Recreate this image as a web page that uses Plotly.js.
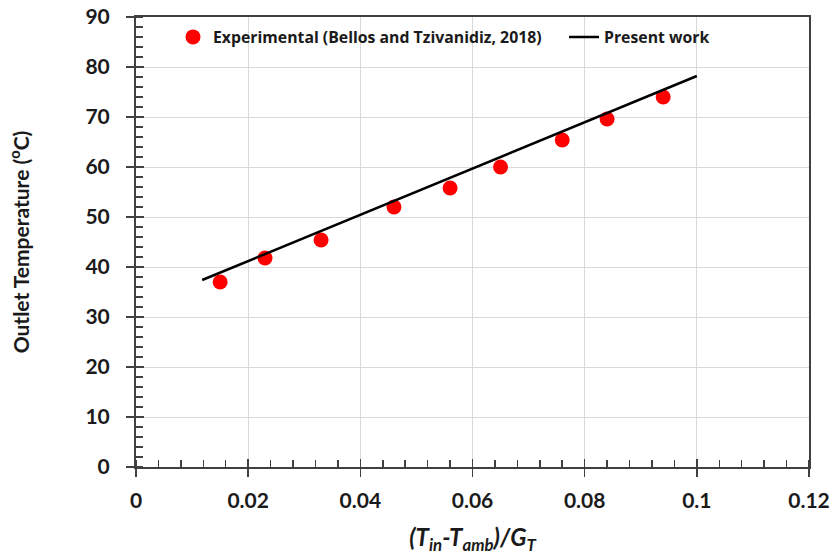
<!DOCTYPE html>
<html>
<head>
<meta charset="utf-8">
<script src="https://cdn.plot.ly/plotly-3.0.1.min.js"></script>
<style>html,body{margin:0;padding:0;background:#fff;}#chart{width:838px;height:558px;}</style>
</head>
<body>
<div id="chart"></div>
<script>
// Experimental data (Bellos and Tzivanidiz, 2018)
const expX = [0.015, 0.023, 0.033, 0.046, 0.056, 0.065, 0.076, 0.084, 0.094];
const expY = [37.0, 41.8, 45.4, 52.0, 55.8, 60.0, 65.4, 69.6, 74.0];
// Present work (model line)
const modelX = [0.0118, 0.1];
const modelY = [37.4, 78.2];

const xTickVals = [0, 0.02, 0.04, 0.06, 0.08, 0.1, 0.12];
const xTickText = ['0', '0.02', '0.04', '0.06', '0.08', '0.1', '0.12'];
const yTickVals = [0, 10, 20, 30, 40, 50, 60, 70, 80, 90];

const FONT = 'Lato, "Open Sans", sans-serif';
const LFONT = '"Open Sans", Lato, sans-serif';
const TXT = '#1a1a1a';
const AX = '#404040';

const traces = [
  {
    x: expX, y: expY, type: 'scatter', mode: 'markers',
    name: 'Experimental (Bellos and Tzivanidiz, 2018)',
    marker: {color: '#ff0000', size: 15, symbol: 'circle'},
    legend: 'legend'
  },
  {
    x: modelX, y: modelY, type: 'scatter', mode: 'lines',
    name: 'Present work',
    line: {color: '#000000', width: 2.5},
    legend: 'legend2'
  },
  // invisible trace to activate overlay axes for inside tick marks
  {x: [0], y: [0], xaxis: 'x2', yaxis: 'y2', mode: 'markers',
   marker: {opacity: 0}, showlegend: false, hoverinfo: 'skip'}
];

const legFont = {family: LFONT, size: 15.8, color: TXT, weight: 'bold'};

const layout = {
  width: 838, height: 558,
  margin: {l: 136, r: 29, t: 17, b: 91},
  paper_bgcolor: '#ffffff', plot_bgcolor: '#ffffff',
  font: {family: FONT, color: TXT},
  showlegend: true,
  legend: {
    orientation: 'h', x: 0.055, y: 0.993, xanchor: 'left', yanchor: 'top',
    bgcolor: 'rgba(0,0,0,0)', font: legFont, itemwidth: 30
  },
  legend2: {
    orientation: 'h', x: 0.636, y: 0.993, xanchor: 'left', yanchor: 'top',
    bgcolor: 'rgba(0,0,0,0)', font: legFont, itemwidth: 30
  },
  xaxis: {
    range: [0, 0.12], tickmode: 'array', tickvals: xTickVals, ticktext: xTickText,
    showgrid: true, gridcolor: '#d9d9d9', gridwidth: 1,
    zeroline: false, showline: true, linecolor: AX, linewidth: 2, mirror: true,
    ticks: 'outside', ticklen: 8, tickwidth: 1.5, tickcolor: AX, ticklabelstandoff: 6,
    minor: {dtick: 0.004, tick0: 0, ticks: 'inside', ticklen: 7, tickwidth: 1.5, tickcolor: AX, showgrid: false},
    tickfont: {family: FONT, size: 21, color: TXT, weight: 'bold'},
    title: {text: '<i>(T<sub>in</sub>-T<sub>amb</sub>)/G<sub>T</sub></i>', standoff: 18,
            font: {family: FONT, size: 24, color: TXT, weight: 'bold'}}
  },
  yaxis: {
    range: [0, 90], tickmode: 'array', tickvals: yTickVals,
    showgrid: true, gridcolor: '#d9d9d9', gridwidth: 1,
    zeroline: false, showline: true, linecolor: AX, linewidth: 2, mirror: true,
    ticks: 'outside', ticklen: 8, tickwidth: 1.5, tickcolor: AX, ticklabelstandoff: 12,
    minor: {dtick: 2, tick0: 0, ticks: 'inside', ticklen: 7, tickwidth: 1.5, tickcolor: AX, showgrid: false},
    tickfont: {family: FONT, size: 21, color: TXT, weight: 'bold'},
    title: {text: 'Outlet Temperature (<sup>o</sup>C)', standoff: 50,
            font: {family: FONT, size: 21, color: TXT, weight: 'bold'}}
  },
  xaxis2: {
    overlaying: 'x', range: [0, 0.12], tickmode: 'array', tickvals: xTickVals,
    showticklabels: false, showgrid: false, zeroline: false, showline: false,
    ticks: 'inside', ticklen: 8, tickwidth: 1.5, tickcolor: AX, anchor: 'y2', side: 'bottom'
  },
  yaxis2: {
    overlaying: 'y', range: [0, 90], tickmode: 'array', tickvals: yTickVals,
    showticklabels: false, showgrid: false, zeroline: false, showline: false,
    ticks: 'inside', ticklen: 8, tickwidth: 1.5, tickcolor: AX, anchor: 'x2', side: 'left'
  }
};

Plotly.newPlot('chart', traces, layout, {displayModeBar: false, staticPlot: true});
</script>
</body>
</html>
